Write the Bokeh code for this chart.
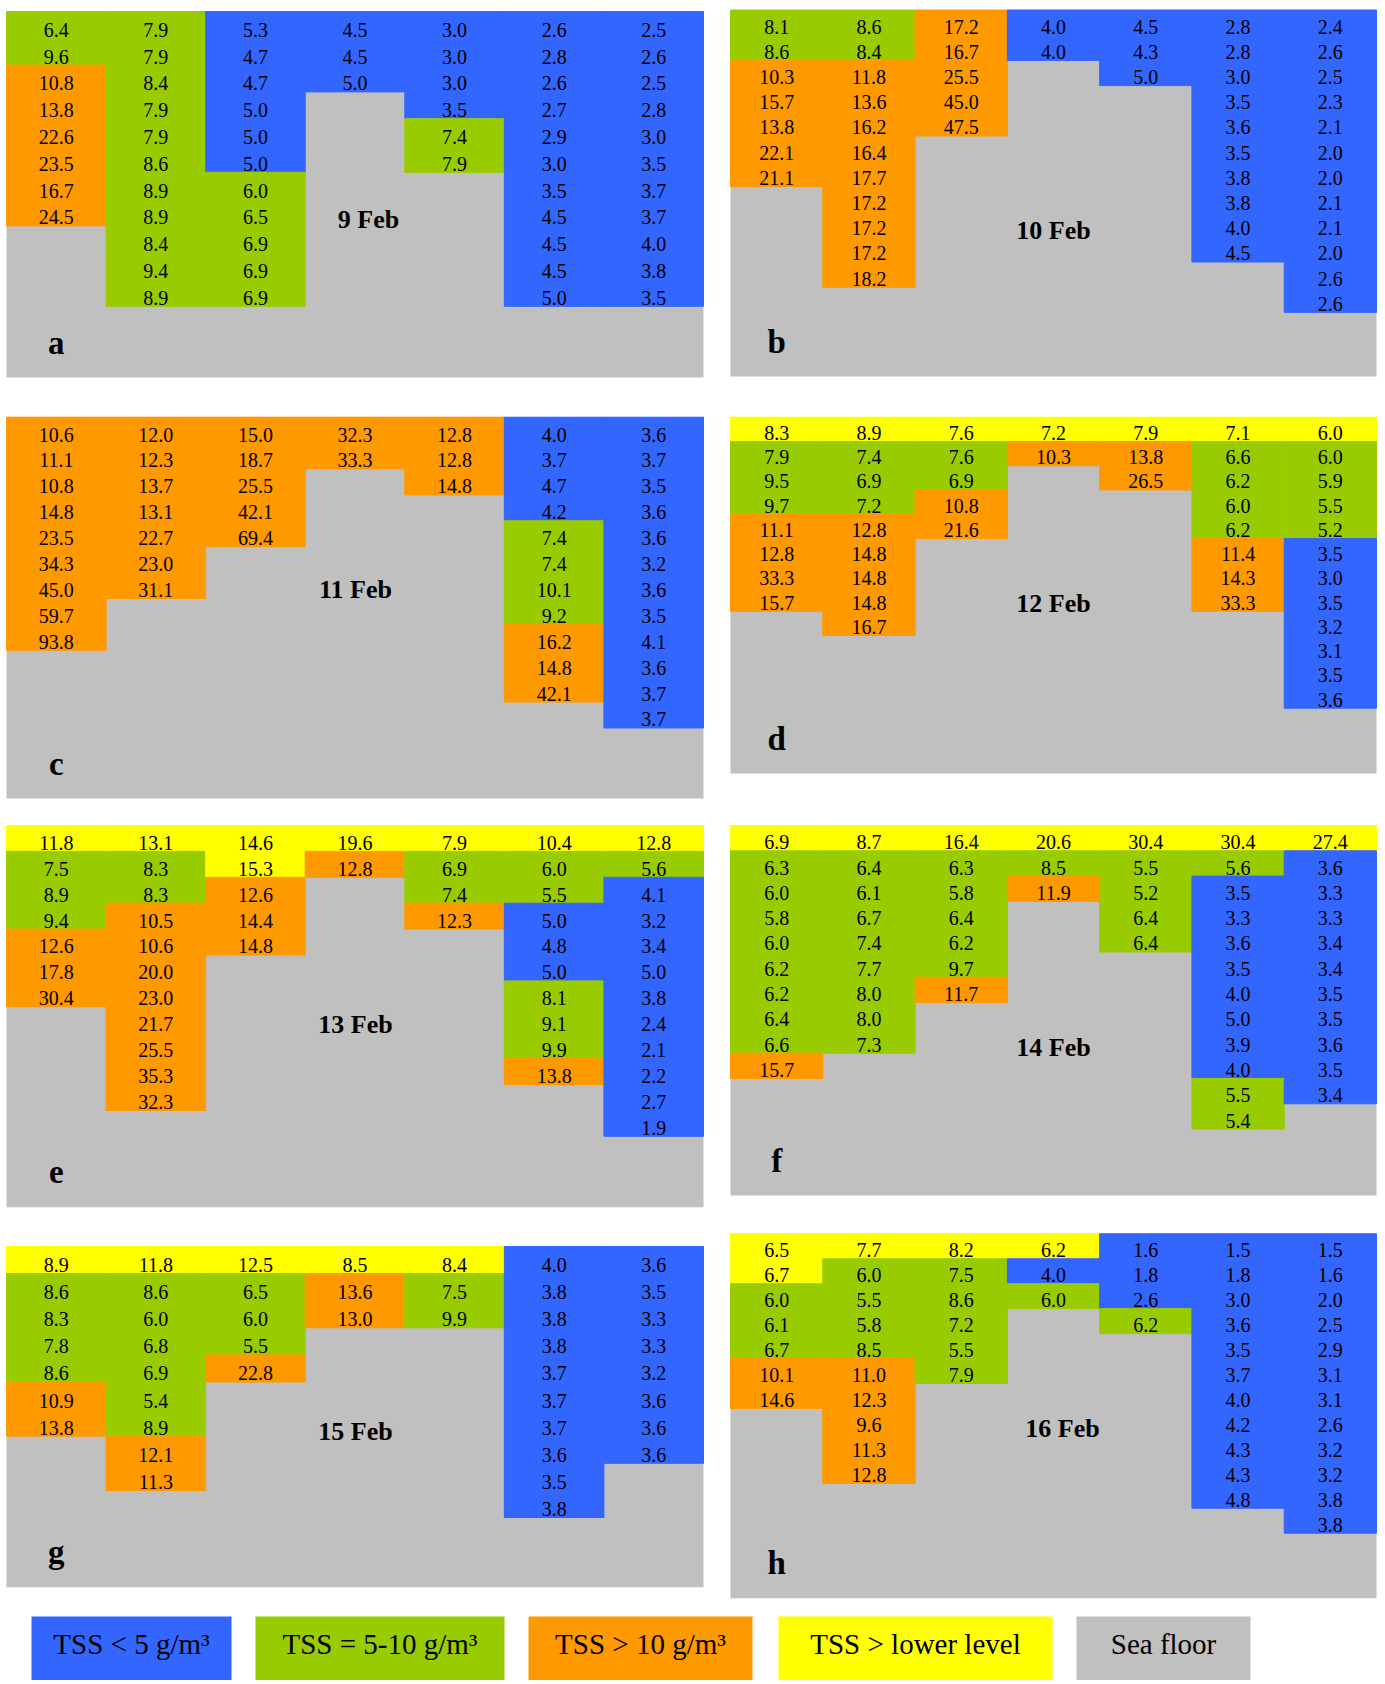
from bokeh.plotting import figure
from bokeh.models import Range1d, ColumnDataSource
from bokeh.core.properties import value
from bokeh.embed import file_html
from bokeh.resources import INLINE

# ---------------- data ----------------
PANELS = ["a", "b", "c", "d", "e", "f", "g", "h"]
DATES = ["9 Feb", "10 Feb", "11 Feb", "12 Feb", "13 Feb", "14 Feb", "15 Feb", "16 Feb"]

# class codes: B = TSS < 5, G = TSS 5-10, O = TSS > 10, Y = TSS > lower level
A_VALUES = [
    [6.4, 9.6, 10.8, 13.8, 22.6, 23.5, 16.7, 24.5],
    [7.9, 7.9, 8.4, 7.9, 7.9, 8.6, 8.9, 8.9, 8.4, 9.4, 8.9],
    [5.3, 4.7, 4.7, 5.0, 5.0, 5.0, 6.0, 6.5, 6.9, 6.9, 6.9],
    [4.5, 4.5, 5.0],
    [3.0, 3.0, 3.0, 3.5, 7.4, 7.9],
    [2.6, 2.8, 2.6, 2.7, 2.9, 3.0, 3.5, 4.5, 4.5, 4.5, 5.0],
    [2.5, 2.6, 2.5, 2.8, 3.0, 3.5, 3.7, 3.7, 4.0, 3.8, 3.5],
]
A_CLASSES = ["GGOOOOOO", "GGGGGGGGGGG", "BBBBBBGGGGG", "BBB", "BBBBGG",
             "BBBBBBBBBBB", "BBBBBBBBBBB"]

B_VALUES = [
    [8.1, 8.6, 10.3, 15.7, 13.8, 22.1, 21.1],
    [8.6, 8.4, 11.8, 13.6, 16.2, 16.4, 17.7, 17.2, 17.2, 17.2, 18.2],
    [17.2, 16.7, 25.5, 45.0, 47.5],
    [4.0, 4.0],
    [4.5, 4.3, 5.0],
    [2.8, 2.8, 3.0, 3.5, 3.6, 3.5, 3.8, 3.8, 4.0, 4.5],
    [2.4, 2.6, 2.5, 2.3, 2.1, 2.0, 2.0, 2.1, 2.1, 2.0, 2.6, 2.6],
]
B_CLASSES = ["GGOOOOO", "GGOOOOOOOOO", "OOOOO", "BB", "BBB",
             "BBBBBBBBBB", "BBBBBBBBBBBB"]

C_VALUES = [
    [10.6, 11.1, 10.8, 14.8, 23.5, 34.3, 45.0, 59.7, 93.8],
    [12.0, 12.3, 13.7, 13.1, 22.7, 23.0, 31.1],
    [15.0, 18.7, 25.5, 42.1, 69.4],
    [32.3, 33.3],
    [12.8, 12.8, 14.8],
    [4.0, 3.7, 4.7, 4.2, 7.4, 7.4, 10.1, 9.2, 16.2, 14.8, 42.1],
    [3.6, 3.7, 3.5, 3.6, 3.6, 3.2, 3.6, 3.5, 4.1, 3.6, 3.7, 3.7],
]
C_CLASSES = ["OOOOOOOOO", "OOOOOOO", "OOOOO", "OO", "OOO",
             "BBBBGGGGOOO", "BBBBBBBBBBBB"]

D_VALUES = [
    [8.3, 7.9, 9.5, 9.7, 11.1, 12.8, 33.3, 15.7],
    [8.9, 7.4, 6.9, 7.2, 12.8, 14.8, 14.8, 14.8, 16.7],
    [7.6, 7.6, 6.9, 10.8, 21.6],
    [7.2, 10.3],
    [7.9, 13.8, 26.5],
    [7.1, 6.6, 6.2, 6.0, 6.2, 11.4, 14.3, 33.3],
    [6.0, 6.0, 5.9, 5.5, 5.2, 3.5, 3.0, 3.5, 3.2, 3.1, 3.5, 3.6],
]
D_CLASSES = ["YGGGOOOO", "YGGGOOOOO", "YGGOO", "YO", "YOO",
             "YGGGGOOO", "YGGGGBBBBBBB"]

E_VALUES = [
    [11.8, 7.5, 8.9, 9.4, 12.6, 17.8, 30.4],
    [13.1, 8.3, 8.3, 10.5, 10.6, 20.0, 23.0, 21.7, 25.5, 35.3, 32.3],
    [14.6, 15.3, 12.6, 14.4, 14.8],
    [19.6, 12.8],
    [7.9, 6.9, 7.4, 12.3],
    [10.4, 6.0, 5.5, 5.0, 4.8, 5.0, 8.1, 9.1, 9.9, 13.8],
    [12.8, 5.6, 4.1, 3.2, 3.4, 5.0, 3.8, 2.4, 2.1, 2.2, 2.7, 1.9],
]
E_CLASSES = ["YGGGOOO", "YGGOOOOOOOO", "YYOOO", "YO", "YGGO",
             "YGGBBBGGGO", "YGBBBBBBBBBB"]

F_VALUES = [
    [6.9, 6.3, 6.0, 5.8, 6.0, 6.2, 6.2, 6.4, 6.6, 15.7],
    [8.7, 6.4, 6.1, 6.7, 7.4, 7.7, 8.0, 8.0, 7.3],
    [16.4, 6.3, 5.8, 6.4, 6.2, 9.7, 11.7],
    [20.6, 8.5, 11.9],
    [30.4, 5.5, 5.2, 6.4, 6.4],
    [30.4, 5.6, 3.5, 3.3, 3.6, 3.5, 4.0, 5.0, 3.9, 4.0, 5.5, 5.4],
    [27.4, 3.6, 3.3, 3.3, 3.4, 3.4, 3.5, 3.5, 3.6, 3.5, 3.4],
]
F_CLASSES = ["YGGGGGGGGO", "YGGGGGGGG", "YGGGGGO", "YGO", "YGGGG",
             "YGBBBBBBBBGG", "YBBBBBBBBBB"]

G_VALUES = [
    [8.9, 8.6, 8.3, 7.8, 8.6, 10.9, 13.8],
    [11.8, 8.6, 6.0, 6.8, 6.9, 5.4, 8.9, 12.1, 11.3],
    [12.5, 6.5, 6.0, 5.5, 22.8],
    [8.5, 13.6, 13.0],
    [8.4, 7.5, 9.9],
    [4.0, 3.8, 3.8, 3.8, 3.7, 3.7, 3.7, 3.6, 3.5, 3.8],
    [3.6, 3.5, 3.3, 3.3, 3.2, 3.6, 3.6, 3.6],
]
G_CLASSES = ["YGGGGOO", "YGGGGGGOO", "YGGGO", "YOO", "YGG",
             "BBBBBBBBBB", "BBBBBBBB"]

H_VALUES = [
    [6.5, 6.7, 6.0, 6.1, 6.7, 10.1, 14.6],
    [7.7, 6.0, 5.5, 5.8, 8.5, 11.0, 12.3, 9.6, 11.3, 12.8],
    [8.2, 7.5, 8.6, 7.2, 5.5, 7.9],
    [6.2, 4.0, 6.0],
    [1.6, 1.8, 2.6, 6.2],
    [1.5, 1.8, 3.0, 3.6, 3.5, 3.7, 4.0, 4.2, 4.3, 4.3, 4.8],
    [1.5, 1.6, 2.0, 2.5, 2.9, 3.1, 3.1, 2.6, 3.2, 3.2, 3.8, 3.8],
]
H_CLASSES = ["YYGGGOO", "YGGGGOOOOO", "YGGGGG", "YBG", "BBBG",
             "BBBBBBBBBBB", "BBBBBBBBBBBB"]

VALUES = {"a": A_VALUES, "b": B_VALUES, "c": C_VALUES, "d": D_VALUES,
          "e": E_VALUES, "f": F_VALUES, "g": G_VALUES, "h": H_VALUES}
CLASSES = {"a": A_CLASSES, "b": B_CLASSES, "c": C_CLASSES, "d": D_CLASSES,
           "e": E_CLASSES, "f": F_CLASSES, "g": G_CLASSES, "h": H_CLASSES}

LEGEND_KEYS = ["B", "G", "O", "Y", "S"]
LEGEND_LABELS = ["TSS < 5 g/m\u00b3", "TSS = 5-10 g/m\u00b3", "TSS > 10 g/m\u00b3",
                 "TSS > lower level", "Sea floor"]

# ---------------- styles / layout ----------------
COLORS = {"B": "#3366FF", "G": "#99CC00", "O": "#FF9900", "Y": "#FFFF00", "S": "#C0C0C0"}
FONT = "Liberation Serif"
NCOL = 7
# text sizes and the empirical shift that puts the renderer's baseline on the wanted one
VAL_FS, DATE_FS, LETTER_FS, LEG_FS = 20, 26, 33, 29
SHIFT = 0.33

# page-pixel layout of each panel: left, top, width, bottom, row height, date label (x, baseline)
GEOM = {
    "a": (6, 11.0, 697, 377.0, 26.8, 368, 228),
    "b": (730, 9.5, 646, 376.0, 25.2, 1053, 239),
    "c": (6, 416.7, 697, 798.0, 25.9, 355, 598),
    "d": (730, 416.7, 646, 773.0, 24.25, 1053, 612),
    "e": (6, 825.0, 697, 1206.7, 25.9, 355, 1033),
    "f": (730, 825.0, 646, 1195.0, 25.3, 1053, 1056),
    "g": (6, 1246.0, 697, 1586.7, 27.1, 355, 1440),
    "h": (730, 1233.3, 646, 1597.7, 24.95, 1062, 1437),
}
LEGEND_BOXES = [(31, 231), (255, 504), (528, 752), (778, 1052), (1076, 1250)]
LEGEND_TOP, LEGEND_BOTTOM, LEGEND_BASE = 1616, 1684, 1653

W, H = 1380, 1680
p = figure(width=W, height=H, output_backend="svg", toolbar_location=None,
           x_range=Range1d(0, W), y_range=Range1d(H, 0),
           min_border=0, outline_line_color=None,
           background_fill_color="white", border_fill_color="white")
p.xaxis.visible = False
p.yaxis.visible = False
p.grid.visible = False

bg = dict(l=[], r=[], t=[], b=[])
cells = dict(l=[], r=[], t=[], b=[], c=[])
txt = dict(x=[], y=[], t=[])
dates = dict(x=[], y=[], t=[])
letters = dict(x=[], y=[], t=[])

for pid, date in zip(PANELS, DATES):
    left, top, width, bottom, rh, dx, dy = GEOM[pid]
    cw = width / NCOL
    bg["l"].append(left); bg["r"].append(left + width)
    bg["t"].append(top); bg["b"].append(bottom)
    for j, (vals, cls) in enumerate(zip(VALUES[pid], CLASSES[pid])):
        x0 = left + j * cw
        # merge runs of equal class into one rectangle
        i = 0
        while i < len(cls):
            k = i
            while k + 1 < len(cls) and cls[k + 1] == cls[i]:
                k += 1
            cells["l"].append(x0); cells["r"].append(x0 + cw)
            cells["t"].append(top + i * rh); cells["b"].append(top + (k + 1) * rh)
            cells["c"].append(COLORS[cls[i]])
            i = k + 1
        for i, v in enumerate(vals):
            txt["x"].append(x0 + cw / 2)
            txt["y"].append(top + (i + 1) * rh - 2 - SHIFT * VAL_FS)
            txt["t"].append(f"{v:.1f}")
    dates["x"].append(dx); dates["y"].append(dy - SHIFT * DATE_FS); dates["t"].append(date)
    letters["x"].append(left + cw / 2); letters["y"].append(bottom - 24 - SHIFT * LETTER_FS)
    letters["t"].append(pid)

p.quad(left="l", right="r", top="t", bottom="b", source=ColumnDataSource(bg),
       fill_color=COLORS["S"], line_color=None)
p.quad(left="l", right="r", top="t", bottom="b", color="c", source=ColumnDataSource(cells),
       line_width=1)
p.text(x="x", y="y", text="t", source=ColumnDataSource(txt),
       text_font=value(FONT), text_font_size=value(f"{VAL_FS}px"), text_color="black",
       text_align="center", text_baseline="alphabetic")
p.text(x="x", y="y", text="t", source=ColumnDataSource(dates),
       text_font=value(FONT), text_font_size=value(f"{DATE_FS}px"), text_font_style="bold",
       text_color="black", text_align="center", text_baseline="alphabetic")
p.text(x="x", y="y", text="t", source=ColumnDataSource(letters),
       text_font=value(FONT), text_font_size=value(f"{LETTER_FS}px"), text_font_style="bold",
       text_color="black", text_align="center", text_baseline="alphabetic")

leg = dict(l=[b[0] for b in LEGEND_BOXES], r=[b[1] for b in LEGEND_BOXES],
           t=[LEGEND_TOP] * len(LEGEND_BOXES), b=[LEGEND_BOTTOM] * len(LEGEND_BOXES),
           c=[COLORS[k] for k in LEGEND_KEYS],
           x=[(b[0] + b[1]) / 2 for b in LEGEND_BOXES],
           y=[LEGEND_BASE - SHIFT * LEG_FS] * len(LEGEND_BOXES),
           t2=LEGEND_LABELS)
lsrc = ColumnDataSource(leg)
p.quad(left="l", right="r", top="t", bottom="b", fill_color="c", line_color=None, source=lsrc)
p.text(x="x", y="y", text="t2", source=lsrc, text_font=value(FONT),
       text_font_size=value(f"{LEG_FS}px"), text_color="black",
       text_align="center", text_baseline="alphabetic")

open("out.html", "w").write(file_html(p, INLINE))
